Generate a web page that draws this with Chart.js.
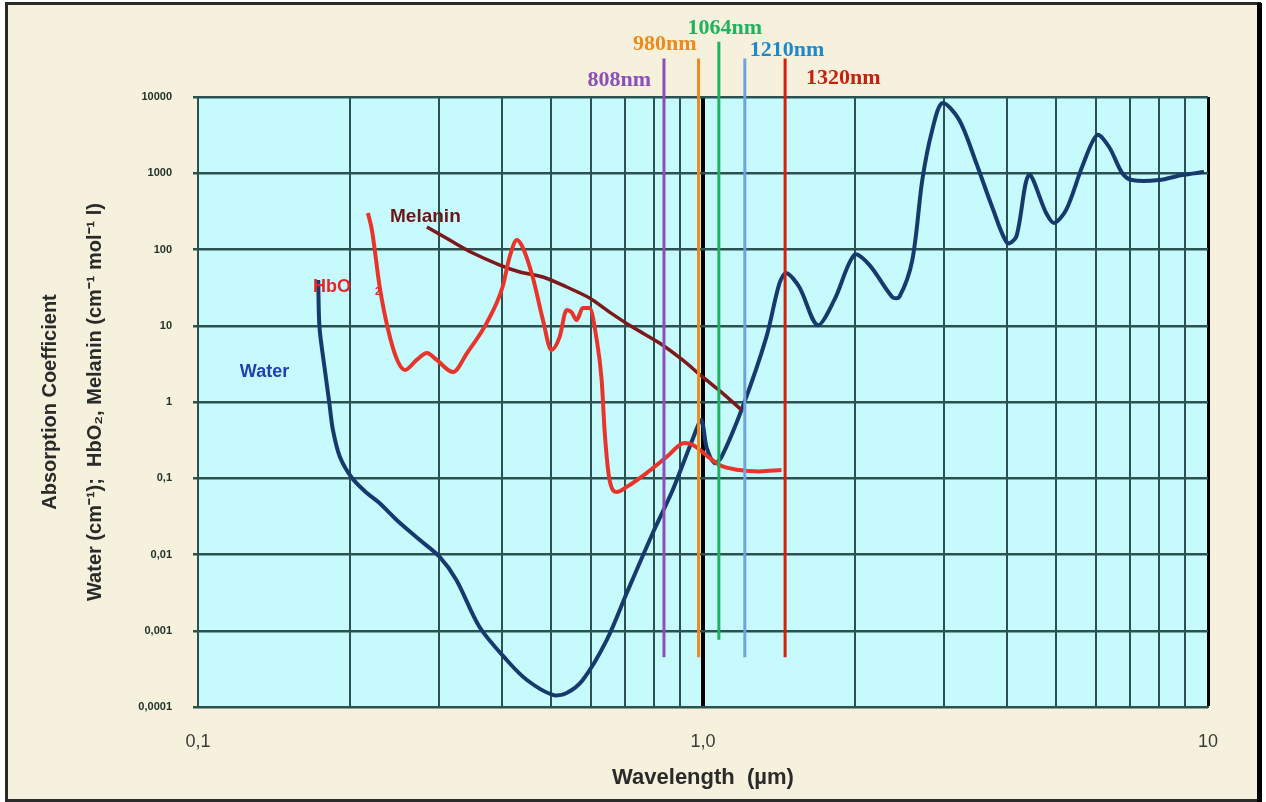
<!DOCTYPE html>
<html><head><meta charset="utf-8">
<script src="https://cdn.jsdelivr.net/npm/chart.js@4.4.1/dist/chart.umd.min.js"></script>
<style>html,body{margin:0;padding:0;background:#fff;}canvas{display:block;}</style>
</head><body>
<canvas id="c" width="1266" height="802"></canvas>
<script>
// ---- data (wavelength in µm, absorption coefficient) ----
const waterX = [0.173,0.174,0.178,0.182,0.185,0.191,0.202,0.216,0.229,0.248,0.275,0.301,0.325,0.361,0.409,0.448,0.504,0.537,0.578,0.645,0.706,0.795,0.871,0.953,0.993,1.016,1.054,1.088,1.198,1.335,1.417,1.463,1.552,1.685,1.820,1.994,2.135,2.371,2.447,2.597,2.718,2.844,2.977,3.217,3.476,3.738,4.003,4.171,4.42,4.781,4.957,5.237,5.632,6.032,6.371,6.761,7.074,8.0,8.885,9.82];
const waterY = [39.8,9.6,2.88,0.97,0.43,0.19,0.10,0.064,0.047,0.028,0.0155,0.0093,0.0046,0.00112,0.00041,0.000226,0.000144,0.000153,0.000226,0.00076,0.0031,0.019,0.070,0.32,0.58,0.257,0.158,0.19,0.86,7.1,36,49,32,10.2,21.8,85,63,23.8,23.8,72.8,815,3690,8340,4990,1362,361,122,146,948,301,223,330,1208,3175,2210,1008,815,815,948,1038];

const hbo2X = [0.217,0.221,0.229,0.238,0.248,0.257,0.271,0.284,0.297,0.320,0.341,0.373,0.401,0.414,0.428,0.439,0.460,0.482,0.501,0.520,0.537,0.549,0.562,0.578,0.596,0.616,0.630,0.639,0.653,0.675,0.706,0.773,0.847,0.919,0.953,1.016,1.078,1.180,1.294,1.430];
const hbo2Y = [301,180,32.2,8.8,3.56,2.63,3.56,4.39,3.56,2.47,4.39,10.9,32.2,79.7,133,108,43.6,11.9,4.81,7.1,16.1,15.1,11.9,17.1,17.1,6.5,1.94,0.39,0.095,0.066,0.077,0.117,0.19,0.29,0.275,0.20,0.149,0.128,0.123,0.128];

const melaninX = [0.284,0.315,0.350,0.396,0.434,0.482,0.537,0.596,0.653,0.725,0.820,0.911,0.998,1.093,1.192];
const melaninY = [197,133,90,62.6,50.7,43.6,32.2,23.1,15.1,9.6,5.94,3.56,2.13,1.31,0.785];

// laser marker lines (positions as drawn in the picture)
const laserLabels = ['808nm','980nm','1064nm','1210nm','1320nm'];
const laserX      = [0.837, 0.98, 1.075, 1.21, 1.454];
const laserBottom = [0.00045, 0.00045, 0.00076, 0.00045, 0.00045];
const laserTop    = [32000, 32000, 53000, 32000, 32000];

// axis ticks
const xGridValues = [0.1,0.2,0.3,0.4,0.5,0.6,0.7,0.8,0.9,1,2,3,4,5,6,7,8,9,10];
const xLabelValues = [0.1, 1, 10];
const xLabelTexts  = ['0,1', '1,0', '10'];
const yTickValues = [0.0001,0.001,0.01,0.1,1,10,100,1000,10000];
const yTickTexts  = ['0,0001','0,001','0,01','0,1','1','10','100','1000','10000'];

// curve name labels (anchor in data coordinates)
const curveLabelText = ['Melanin','HbO','2','Water'];
const curveLabelX    = [0.240, 0.169, 0.224, 0.121];
const curveLabelY    = [267, 32.2, 27.7, 2.47];

// ---- styles ----
const laserLineColors  = ['#8d4fb8','#ee8a1c','#1db35f','#6fa3de','#d4200c'];
const laserTextColors  = ['#8d4fb8','#ee8a1c','#1db35f','#1e88cc','#c8200e'];
const laserTextAlign   = ['right','right','center','left','left'];
const laserTextDx      = [-13, -2, 6, 5, 21];
const laserTextDy      = [-17, -53, -69, -47, -19];
const curveLabelColors = ['#6a1717','#e4262a','#e4262a','#1f3fb5'];
const curveLabelFonts  = ['bold 19px "Liberation Sans", Arial','bold 18px "Liberation Sans", Arial','bold 10px "Liberation Sans", Arial','bold 18px "Liberation Sans", Arial'];

const pts = (xs, ys) => xs.map((x, i) => ({x, y: ys[i]}));
const GRID = '#2b5251';

const laserSets = laserX.map((x, i) => ({
  label: laserLabels[i],
  data: [{x, y: laserBottom[i]}, {x, y: laserTop[i]}],
  borderColor: laserLineColors[i], borderWidth: 3, pointRadius: 0, clip: false, tension: 0
}));

const bgPlugin = {
  id: 'bg',
  beforeDraw(chart) {
    const ctx = chart.ctx, a = chart.chartArea;
    ctx.save();
    ctx.fillStyle = '#ffffff'; ctx.fillRect(0, 0, chart.width, chart.height);
    ctx.fillStyle = '#f5f1dc'; ctx.fillRect(7, 4, 1252, 796);
    ctx.fillStyle = '#c6fafc'; ctx.fillRect(a.left, a.top, a.right - a.left, a.bottom - a.top);
    ctx.restore();
  },
  afterDraw(chart) {
    const ctx = chart.ctx;
    ctx.save();
    ctx.strokeStyle = '#2a2a2a'; ctx.lineWidth = 3;
    ctx.strokeRect(6.5, 3.5, 1253, 797);
    ctx.fillStyle = '#000'; ctx.fillRect(1257, 3, 5, 799);
    ctx.restore();
  }
};

const labelPlugin = {
  id: 'labels',
  afterDatasetsDraw(chart) {
    const ctx = chart.ctx, xs = chart.scales.x, ys = chart.scales.y, a = chart.chartArea;
    ctx.save();
    ctx.textBaseline = 'middle';
    laserLabels.forEach((t, i) => {
      ctx.font = 'bold 22px "Liberation Serif", serif';
      ctx.fillStyle = laserTextColors[i];
      ctx.textAlign = laserTextAlign[i];
      ctx.fillText(t, xs.getPixelForValue(laserX[i]) + laserTextDx[i], a.top + laserTextDy[i]);
    });
    ctx.textAlign = 'left';
    curveLabelText.forEach((t, i) => {
      ctx.font = curveLabelFonts[i];
      ctx.fillStyle = curveLabelColors[i];
      ctx.fillText(t, xs.getPixelForValue(curveLabelX[i]), ys.getPixelForValue(curveLabelY[i]));
    });
    ctx.restore();
  }
};

new Chart(document.getElementById('c'), {
  type: 'line',
  data: {
    datasets: [
      ...laserSets,
      {label: 'HbO2', data: pts(hbo2X, hbo2Y), borderColor: '#e8352b', borderWidth: 4, pointRadius: 0, cubicInterpolationMode: 'monotone'},
      {label: 'Melanin', data: pts(melaninX, melaninY), borderColor: '#7b1a1a', borderWidth: 3.5, pointRadius: 0, tension: 0.3},
      {label: 'Water', data: pts(waterX, waterY), borderColor: '#163a6e', borderWidth: 4, pointRadius: 0, tension: 0.3}
    ]
  },
  options: {
    responsive: false, animation: false, devicePixelRatio: 1,
    layout: {padding: {top: 97, right: 58, bottom: 0, left: 0}},
    plugins: {legend: {display: false}, tooltip: {enabled: false}},
    scales: {
      x: {
        type: 'logarithmic', min: 0.1, max: 10,
        afterBuildTicks: s => { s.ticks = xGridValues.map(v => ({value: v})); },
        afterFit: s => { s.height = 95; },
        grid: {
          drawTicks: false,
          color: c => (c.tick && (c.tick.value === 1 || c.tick.value === 10)) ? '#000' : GRID,
          lineWidth: c => (c.tick && c.tick.value === 1) ? 4 : (c.tick && c.tick.value === 10 ? 3 : 2)
        },
        border: {display: true, color: GRID, width: 2},
        ticks: {
          autoSkip: false, maxRotation: 0, padding: 24, color: '#3a3a3a',
          font: {family: '"Liberation Sans", Arial', size: 18},
          callback: v => { const k = xLabelValues.indexOf(v); return k >= 0 ? xLabelTexts[k] : ''; }
        },
        title: {display: true, text: 'Wavelength  (µm)', color: '#2a2a2a', padding: {top: 0, bottom: 12},
          font: {family: '"Liberation Sans", Arial', size: 22, weight: 'bold', lineHeight: 1.1}}
      },
      y: {
        type: 'logarithmic', min: 0.0001, max: 10000,
        afterBuildTicks: s => { s.ticks = yTickValues.map(v => ({value: v})); },
        afterFit: s => { s.width = 198; },
        grid: {color: GRID, lineWidth: 2.5, tickLength: 5, drawTicks: true},
        border: {display: true, color: GRID, width: 2},
        ticks: {
          padding: 21, color: '#23332b',
          font: {family: '"Liberation Sans Narrow", "Liberation Sans", Arial', size: 11, weight: 'bold'},
          callback: v => { const k = yTickValues.indexOf(v); return k >= 0 ? yTickTexts[k] : ''; }
        },
        title: {display: true, color: '#2a2a2a',
          text: ['Absorption Coefficient', 'Water (cm\u207B\u00B9);  HbO\u2082, Melanin (cm\u207B\u00B9 mol\u207B\u00B9 l)'],
          padding: {top: 27.5, bottom: 0},
          font: {family: '"Liberation Sans", Arial', size: 20, weight: 'bold', lineHeight: 2.25}}
      }
    }
  },
  plugins: [bgPlugin, labelPlugin]
});
</script>
</body></html>
